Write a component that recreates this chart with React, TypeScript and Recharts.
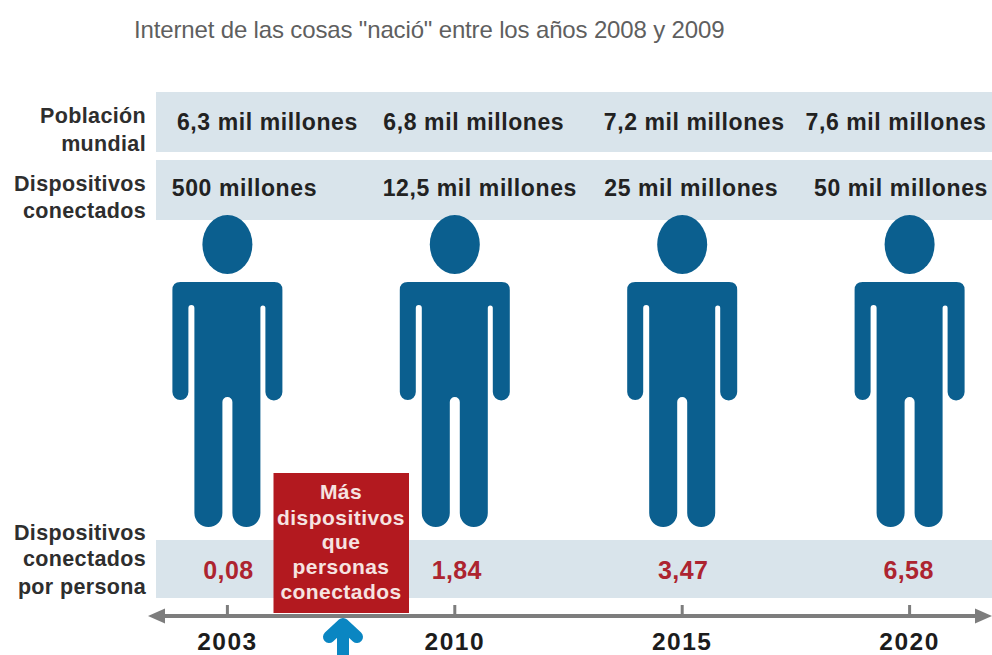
import { ReferenceArea, ReferenceLine, Scatter, ScatterChart, XAxis, YAxis } from "recharts";

const years = ["2003", "2010", "2015", "2020"];
const population = ["6,3 mil millones", "6,8 mil millones", "7,2 mil millones", "7,6 mil millones"];
const devices = ["500 millones", "12,5 mil millones", "25 mil millones", "50 mil millones"];
const devicesPerPerson = [0.08, 1.84, 3.47, 6.58];
const calloutLines = ["Más", "dispositivos", "que", "personas", "conectados"];
const populationTitle = ["Población", "mundial"];
const devicesTitle = ["Dispositivos", "conectados"];
const ratioTitle = ["Dispositivos", "conectados", "por persona"];

const WIDTH = 992;
const HEIGHT = 655;
const STEP = 227.4;
const AXIS_Y = 617;
const FONT = "'Liberation Sans', Arial, sans-serif";
const BLUE = "#0b5f8f";
const RED = "#b3191f";

// x axis runs over the column index, so one unit is one column
const toX = (px: number) => px / STEP - 1;

const populationShift = [40, 19, 12, -13.6];
const devicesShift = [17, 25, 9, -8.6];
const ratioShift = [1, 2, 1, -1];

const centred = (texts: string[], shifts: number[], y: number) =>
  texts.map((text, i) => ({ x: i + shifts[i] / STEP, y, text }));

const rightAligned = (lines: string[], ys: number[]) =>
  lines.map((text, i) => ({ x: toX(146), y: ys[i], text }));

const personRows = years.map((_, i) => ({ x: i, y: 370 }));
const populationRows = centred(population, populationShift, 122);
const devicesRows = centred(devices, devicesShift, 188);
const ratioRows = centred(
  devicesPerPerson.map((v) => v.toFixed(2).replace(".", ",")),
  ratioShift,
  570,
);
const titleRows = [
  ...rightAligned(populationTitle, [115, 143]),
  ...rightAligned(devicesTitle, [183, 210]),
  ...rightAligned(ratioTitle, [532, 558, 586]),
];
const calloutRows = calloutLines.map((text, i) => ({
  x: toX(341),
  y: [491, 517, 541, 566, 591][i],
  text,
}));

function textShape(fontSize: number, fill: string, anchor: string, spacing = 0) {
  return (props: any) => (
    <text
      x={props.cx}
      y={props.cy}
      dy="0.36em"
      textAnchor={anchor}
      fontFamily={FONT}
      fontWeight={700}
      fontSize={fontSize}
      letterSpacing={spacing}
      fill={fill}
    >
      {props.payload.text}
    </text>
  );
}

function Person(props: any) {
  const { cx, cy } = props;
  const top = cy - 88;
  const body = [
    `M${cx - 55} ${top + 8}`,
    `Q${cx - 55} ${top} ${cx - 47} ${top}`,
    `H${cx + 47}`,
    `Q${cx + 55} ${top} ${cx + 55} ${top + 8}`,
    `V${top + 110}`,
    `A8.5 8.5 0 0 1 ${cx + 38} ${top + 110}`,
    `V${top + 26}`,
    `A2.5 2.5 0 0 0 ${cx + 33} ${top + 26}`,
    `V${top + 231}`,
    `A14 14 0 0 1 ${cx + 5} ${top + 231}`,
    `V${top + 120}`,
    `A5 5 0 0 0 ${cx - 5} ${top + 120}`,
    `V${top + 231}`,
    `A14 14 0 0 1 ${cx - 33} ${top + 231}`,
    `V${top + 26}`,
    `A3 3 0 0 0 ${cx - 39} ${top + 26}`,
    `V${top + 110}`,
    `A8 8 0 0 1 ${cx - 55} ${top + 110}`,
    "Z",
  ].join(" ");
  return (
    <g fill={BLUE}>
      <ellipse cx={cx} cy={cy - 125.5} rx={25} ry={29.5} />
      <path d={body} />
    </g>
  );
}

function YearTick(props: any) {
  const { x, y, payload } = props;
  return (
    <g>
      <line x1={x} x2={x} y1={y - 12} y2={y} stroke="#7d7d7d" strokeWidth={3} />
      <text
        x={x}
        y={y + 24}
        dy="0.36em"
        textAnchor="middle"
        fontFamily={FONT}
        fontWeight={700}
        fontSize={24.5}
        letterSpacing={1.5}
        fill="#1c1c1c"
      >
        {years[payload.value]}
      </text>
    </g>
  );
}

const arrowEnds = [
  { x: toX(148), y: 616, dir: 1 },
  { x: toX(992), y: 616, dir: -1 },
];

function ArrowEnd(props: any) {
  const { cx, cy, payload } = props;
  const d = payload.dir;
  return <path d={`M${cx} ${cy} L${cx + d * 17} ${cy - 7.5} V${cy + 7.5} Z`} fill="#7d7d7d" />;
}

// blue marker under the timeline, between 2003 and 2010
const launchMark = [{ x: toX(343), y: 617 }];

function LaunchArrow(props: any) {
  const { cx, cy } = props;
  return (
    <g fill="none" stroke="#0a86c2" strokeWidth={12}>
      <path d={`M${cx} ${cy + 8} V${HEIGHT + 4}`} />
      <path d={`M${cx - 14} ${cy + 20} L${cx} ${cy + 7} L${cx + 14} ${cy + 20}`} strokeLinecap="round" strokeLinejoin="round" />
    </g>
  );
}

export default function App() {
  return (
    <div style={{ position: "absolute", left: 0, top: 0, width: WIDTH, height: HEIGHT, background: "#fff" }}>
      <div
        style={{
          position: "absolute",
          left: 134,
          top: 16,
          fontFamily: FONT,
          fontSize: 24,
          lineHeight: "28px",
          letterSpacing: -0.15,
          color: "#5f5f5f",
          whiteSpace: "nowrap",
        }}
      >
        Internet de las cosas "nació" entre los años 2008 y 2009
      </div>
      <ScatterChart width={WIDTH} height={HEIGHT} margin={{ top: 0, right: 0, bottom: 0, left: 0 }}>
        <XAxis
          type="number"
          dataKey="x"
          domain={[-1, WIDTH / STEP - 1]}
          ticks={[0, 1, 2, 3]}
          interval={0}
          height={HEIGHT - AXIS_Y}
          axisLine={false}
          tickLine={false}
          tickSize={0}
          tickMargin={0}
          tick={YearTick}
        />
        <YAxis type="number" dataKey="y" domain={[0, AXIS_Y]} reversed hide />

        <ReferenceArea x1={toX(156)} x2={toX(992)} y1={92} y2={152} fill="#d9e4eb" fillOpacity={1} stroke="none" />
        <ReferenceArea x1={toX(156)} x2={toX(992)} y1={160} y2={220} fill="#d9e4eb" fillOpacity={1} stroke="none" />
        <ReferenceArea x1={toX(156)} x2={toX(992)} y1={540} y2={598} fill="#d9e4eb" fillOpacity={1} stroke="none" />
        <ReferenceLine
          segment={[
            { x: toX(160), y: 616 },
            { x: toX(982), y: 616 },
          ]}
          stroke="#7d7d7d"
          strokeWidth={4}
        />
        <ReferenceArea x1={toX(273.5)} x2={toX(409)} y1={473} y2={613} fill={RED} fillOpacity={1} stroke="none" />

        <Scatter data={personRows} shape={Person} isAnimationActive={false} />
        <Scatter data={populationRows} shape={textShape(23, "#222", "middle", 0.6)} isAnimationActive={false} />
        <Scatter data={devicesRows} shape={textShape(23, "#222", "middle", 0.6)} isAnimationActive={false} />
        <Scatter data={ratioRows} shape={textShape(25, "#ad2430", "middle", 0.4)} isAnimationActive={false} />
        <Scatter data={titleRows} shape={textShape(21.5, "#2e2e2e", "end", 0.35)} isAnimationActive={false} />
        <Scatter data={calloutRows} shape={textShape(21, "#f6e3e1", "middle", 0.45)} isAnimationActive={false} />
        <Scatter data={arrowEnds} shape={ArrowEnd} isAnimationActive={false} />
        <Scatter data={launchMark} shape={LaunchArrow} isAnimationActive={false} />
      </ScatterChart>
    </div>
  );
}
